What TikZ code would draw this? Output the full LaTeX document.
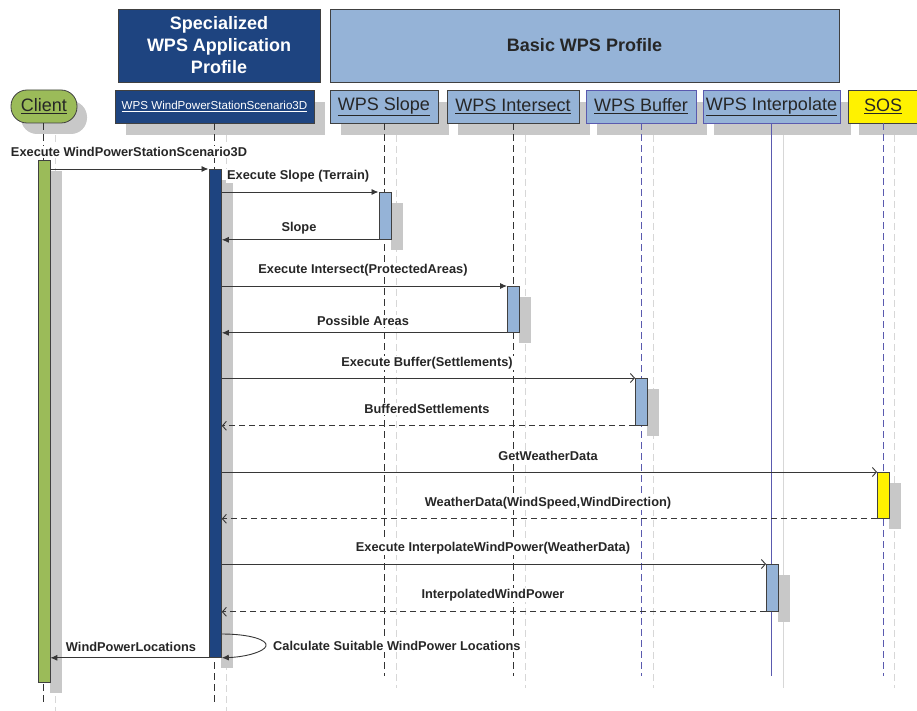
\documentclass[tikz,border=0pt]{standalone}
\usepackage{fontspec}
\setmainfont{Liberation Sans}
\usetikzlibrary{arrows.meta,shadows}
\definecolor{dblue}{RGB}{30,68,128}
\definecolor{lblue}{RGB}{149,179,215}
\definecolor{cgreen}{RGB}{155,187,89}
\definecolor{bord}{RGB}{64,64,64}
\definecolor{lifeblue}{RGB}{90,90,175}
\definecolor{shgray}{RGB}{200,200,200}
\definecolor{shline}{RGB}{215,215,215}
\definecolor{msgc}{RGB}{55,55,55}
\tikzset{
  grp/.style={draw=bord, line width=0.8pt, minimum height=73pt, inner sep=0pt, align=center, font=\fontsize{18}{22}\selectfont\bfseries},
  hdr/.style={draw=bord, line width=0.8pt, minimum height=33pt, inner sep=0pt, fill=lblue,
     font=\fontsize{18}{20}\selectfont,
     drop shadow={shadow xshift=11pt, shadow yshift=-12pt, fill=shgray, opacity=1}},
  actbar/.style={draw=bord, line width=0.8pt, minimum width=12pt, inner sep=0pt, anchor=north west,
     drop shadow={shadow xshift=12pt, shadow yshift=-11pt, fill=shgray, opacity=1}},
  life/.style={line width=1pt, dash pattern=on 7pt off 4pt},
  shlife/.style={shline, line width=1pt, dash pattern=on 7pt off 4pt},
  msg/.style={msgc, line width=0.9pt},
  callf/.style={msg, -{Latex[length=7pt,width=6pt]}},
  callo/.style={msg, -{Straight Barb[length=4pt,width=9pt]}},
  reto/.style={msg, dash pattern=on 6pt off 4pt, -{Straight Barb[length=4pt,width=9pt]}},
  lbl/.style={fill=white, inner sep=1pt, font=\fontsize{12.8}{14}\selectfont\bfseries, text=black!85}
}
\begin{document}
\begin{tikzpicture}[x=1pt,y=-1pt]
\useasboundingbox (0,0) rectangle (917,711);
% shadow lifelines
\draw[shlife] (55,135) -- (55,711);
\draw[shlife] (226.5,135) -- (226.5,711);
\draw[shlife] (396.5,135) -- (396.5,688);
\draw[shlife] (525,135) -- (525,688);
\draw[shlife] (653,135) -- (653,688);
\draw[shline, line width=1pt] (783.5,135) -- (783.5,688);
\draw[shlife] (894.5,135) -- (894.5,688);

% group headers
\node[grp, fill=dblue, text=white, minimum width=202pt] (spec) at (219,45.5) {Specialized\\WPS Application\\Profile};
\node[grp, fill=lblue, text=black!85, minimum width=509pt] (basic) at (584.5,45.5) {Basic WPS Profile};

% lifeline heads
\node[draw=bord, line width=0.8pt, fill=cgreen, rounded corners=16pt, minimum width=66pt, minimum height=33pt,
      font=\fontsize{18}{20}\selectfont, text=black!85,
      drop shadow={shadow xshift=10pt, shadow yshift=-11pt, fill=shgray, opacity=1}] (client) at (44,106.5) {\underline{Client}};
\node[hdr, fill=dblue, text=white, minimum width=199pt, font=\fontsize{11.6}{13}\selectfont] (scen) at (214.5,106.5) {\underline{WPS WindPowerStationScenario3D}};
\node[hdr, minimum width=108pt, text=black!85] (slope) at (384,106.5) {\underline{WPS Slope}};
\node[hdr, minimum width=132pt, text=black!85] (inter) at (513,106.5) {\underline{WPS Intersect}};
\node[hdr, draw=lifeblue, minimum width=110pt, text=black!85] (buf) at (641,106.5) {\underline{WPS Buffer}};
\node[hdr, draw=lifeblue, minimum width=137pt, text=black!85] (interp) at (771.5,106.5) {\underline{WPS Interpolate}};
\node[hdr, fill=yellow, minimum width=70pt, text=black!85] (sos) at (883,106.5) {\underline{SOS}};

% lifelines
\draw[life, black!80] (client.south -| 43,0) -- (43,702);
\draw[life, black!80] (scen.south) -- (scen.south |- 0,702);
\draw[life, black!80] (slope.south) -- (slope.south |- 0,676);
\draw[life, black!80] (inter.south) -- (inter.south |- 0,676);
\draw[life, lifeblue] (buf.south) -- (buf.south |- 0,676);
\draw[lifeblue, line width=1pt] (interp.south) -- (interp.south |- 0,676);
\draw[life, lifeblue] (sos.south) -- (sos.south |- 0,676);

% activation bars
\node[actbar, fill=cgreen, minimum height=522pt] (clientA) at (37.5,160) {};
\node[actbar, fill=dblue, minimum height=488pt, minimum width=12.5pt] (scenA) at (208.5,169) {};
\node[actbar, fill=lblue, minimum height=47pt] (slopeA) at (378.5,192) {};
\node[actbar, fill=lblue, minimum height=46pt] (interA) at (507,286) {};
\node[actbar, fill=lblue, minimum height=47pt] (bufA) at (635,378) {};
\node[actbar, fill=yellow, minimum height=46pt] (sosA) at (877,472) {};
\node[actbar, fill=lblue, minimum height=47pt] (interpA) at (766,564) {};

% messages
\draw[callf] (clientA.east |- scenA.north) -- (scenA.north west);
\node[lbl] (m0) at (129,152) {Execute WindPowerStationScenario3D};

\draw[callf] (scenA.east |- slopeA.north) -- (slopeA.north west);
\node[lbl, anchor=west] (m1) at (226,176) {Execute Slope (Terrain)};
\draw[callf] (slopeA.south west) -- (scenA.east |- slopeA.south);
\node[lbl] (m2) at (299,228) {Slope};

\draw[callf] (scenA.east |- interA.north) -- (interA.north west);
\node[lbl] (m3) at (363,270) {Execute Intersect(ProtectedAreas)};
\draw[callf] (interA.south west) -- (scenA.east |- interA.south);
\node[lbl] (m4) at (363,321) {Possible Areas};

\draw[callo] (scenA.east |- bufA.north) -- (bufA.north west);
\node[lbl] (m5) at (427,363) {Execute Buffer(Settlements)};
\draw[reto] (bufA.south west) -- (scenA.east |- bufA.south);
\node[lbl] (m6) at (427,409) {BufferedSettlements};

\draw[callo] (scenA.east |- sosA.north) -- (sosA.north west);
\node[lbl] (m7) at (548,456) {GetWeatherData};
\draw[reto] (sosA.south west) -- (scenA.east |- sosA.south);
\node[lbl] (m8) at (548,503) {WeatherData(WindSpeed,WindDirection)};

\draw[callo] (scenA.east |- interpA.north) -- (interpA.north west);
\node[lbl] (m9) at (493,548) {Execute InterpolateWindPower(WeatherData)};
\draw[reto] (interpA.south west) -- (scenA.east |- interpA.south);
\node[lbl] (m10) at (493,595) {InterpolatedWindPower};

% self call
\coordinate (selfA) at (scenA.east |- 0,634);
\draw[callf] (selfA) .. controls (250,634) and (268,640) .. (266,646) .. controls (264,652) and (245,657) .. (scenA.south east);
\node[lbl, anchor=west] (m11) at (272,646) {Calculate Suitable WindPower Locations};

\draw[callf] (scenA.south west) -- (clientA.east |- scenA.south);
\node[lbl] (m12) at (131,647) {WindPowerLocations};
\end{tikzpicture}
\end{document}
